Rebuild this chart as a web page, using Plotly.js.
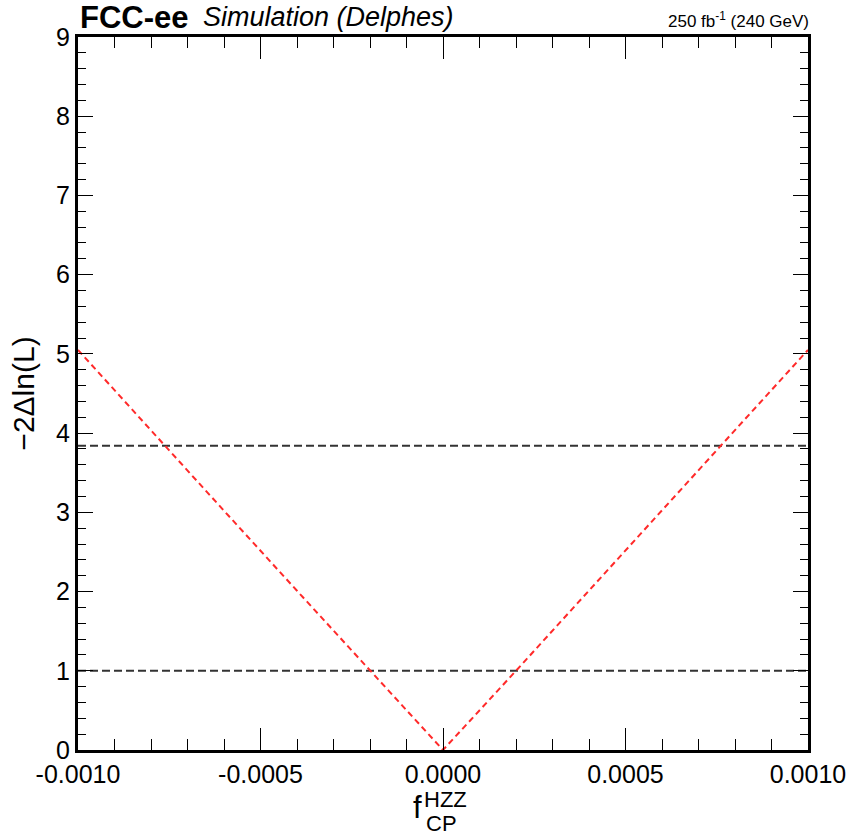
<!DOCTYPE html>
<html>
<head>
<meta charset="utf-8">
<script src="https://cdn.plot.ly/plotly-3.0.1.min.js"></script>
<style>html,body{margin:0;padding:0;background:#fff;}#plot{width:857px;height:835px;}</style>
</head>
<body>
<div id="plot"></div>
<script>
// Scan of -2ΔlnL vs f_CP^HZZ
const fcp = [-0.0010, -0.0008, -0.0006, -0.0004, -0.0002, 0.0, 0.0002, 0.0004, 0.0006, 0.0008, 0.0010];
const nll = [5.05, 4.03, 3.02, 2.01, 1.00, 0.0, 1.00, 2.01, 3.02, 4.03, 5.05];
const refLevels = [1.0, 3.84];
const xRange = [-0.001, 0.001];
const yRange = [0, 9];
const xTickVals = [-0.001, -0.0005, 0, 0.0005, 0.001];
const xTickText = ['-0.0010', '-0.0005', '0.0000', '0.0005', '0.0010'];

const traces = [];
refLevels.forEach(v => {
  traces.push({
    x: xRange, y: [v, v], mode: 'lines', type: 'scatter',
    line: {color: '#333333', width: 2, dash: '8px,4px'},
    hoverinfo: 'skip', showlegend: false
  });
});
traces.push({
  x: fcp, y: nll, mode: 'lines', type: 'scatter',
  line: {color: '#ff2a2a', width: 2, dash: '6px,4px'},
  showlegend: false
});

const font = 'Liberation Sans, Arial, sans-serif';
const layout = {
  width: 857, height: 835,
  margin: {l: 78, r: 49, t: 37, b: 85},
  paper_bgcolor: '#fff', plot_bgcolor: '#fff',
  showlegend: false,
  xaxis: {
    range: xRange, tickvals: xTickVals, ticktext: xTickText,
    ticks: 'inside', ticklen: 22, tickwidth: 1, tickcolor: '#000',
    mirror: 'allticks', showline: true, linecolor: '#000', linewidth: 3,
    showgrid: false, zeroline: false,
    tickfont: {family: font, size: 25, color: '#000'},
    minor: {dtick: 0.0001, ticks: 'inside', ticklen: 11, tickcolor: '#000', tickwidth: 1, showgrid: false}
  },
  yaxis: {
    range: yRange, dtick: 1,
    ticks: 'inside', ticklen: 15, tickwidth: 1, tickcolor: '#000',
    mirror: 'allticks', showline: true, linecolor: '#000', linewidth: 3,
    showgrid: false, zeroline: false,
    tickfont: {family: font, size: 25, color: '#000'},
    minor: {dtick: 0.2, ticks: 'inside', ticklen: 8, tickcolor: '#000', tickwidth: 1, showgrid: false},
    title: {text: '−2Δln(L)', font: {family: font, size: 30, color: '#000'}, standoff: 13}
  },
  annotations: [
    {xref: 'paper', yref: 'paper', x: 0, y: 1, xanchor: 'left', yanchor: 'bottom', xshift: 0, yshift: 2,
     height: 32, text: '<b>FCC-ee</b>', showarrow: false,
     font: {family: font, size: 31, color: '#000'}},
    {xref: 'paper', yref: 'paper', x: 0, y: 1, xanchor: 'left', yanchor: 'bottom', xshift: 123, yshift: 2,
     height: 32, text: '<i>Simulation (Delphes)</i>', showarrow: false,
     font: {family: font, size: 27, color: '#000'}},
    {xref: 'paper', yref: 'paper', x: 1, y: 1, xanchor: 'right', yanchor: 'bottom', xshift: 3, yshift: 4,
     text: '250 fb<sup>-1</sup> (240 GeV)', showarrow: false,
     font: {family: font, size: 17, color: '#000'}},
    // x-axis title: f with stacked super/subscript
    {xref: 'x', yref: 'paper', x: 0, y: 0, xanchor: 'right', yanchor: 'bottom', xshift: -19, yshift: -77,
     text: 'f', showarrow: false, font: {family: font, size: 31, color: '#000'}},
    {xref: 'x', yref: 'paper', x: 0, y: 0, xanchor: 'left', yanchor: 'bottom', xshift: -21, yshift: -64,
     text: 'HZZ', showarrow: false, font: {family: font, size: 22, color: '#000'}},
    {xref: 'x', yref: 'paper', x: 0, y: 0, xanchor: 'left', yanchor: 'bottom', xshift: -19, yshift: -88,
     text: 'CP', showarrow: false, font: {family: font, size: 22, color: '#000'}}
  ]
};

Plotly.newPlot('plot', traces, layout, {displayModeBar: false, staticPlot: true});
</script>
</body>
</html>
